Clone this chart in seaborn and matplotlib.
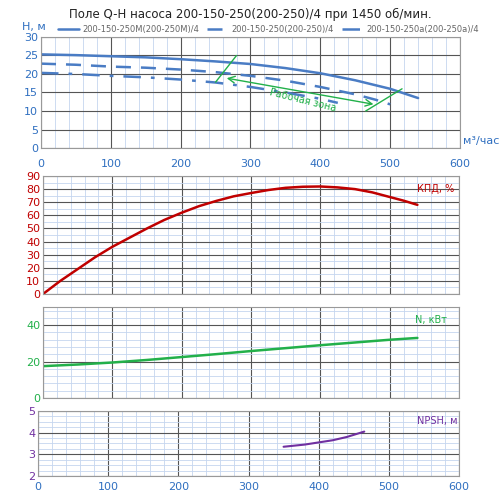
import matplotlib.pyplot as plt
import seaborn as sns
from matplotlib.ticker import MultipleLocator

sns.set_theme(style="white")
plt.rcParams['font.family'] = ['DejaVu Sans']

q_m = [0, 50, 100, 150, 200, 250, 300, 350, 400, 450, 500, 540]
h_m = [25.3, 25.1, 24.8, 24.5, 24.0, 23.4, 22.7, 21.6, 20.2, 18.3, 16.0, 13.5]
q_s = [0, 50, 100, 150, 200, 250, 300, 350, 400, 450, 480, 500]
h_s = [22.8, 22.5, 22.0, 21.7, 21.2, 20.5, 19.5, 18.2, 16.5, 14.5, 13.0, 11.8]
q_a = [0, 50, 100, 150, 200, 250, 300, 350, 400, 425]
h_a = [20.3, 20.0, 19.5, 19.1, 18.5, 17.7, 16.5, 15.0, 13.3, 12.2]
q_eff = [0, 25, 50, 75, 100, 125, 150, 175, 200, 225, 250, 275, 300, 325, 350, 375,
         400, 425, 450, 475, 500, 520, 540]
eff = [0, 10, 19, 28, 36, 43, 50, 56.5, 62, 67, 71, 74.5, 77, 79.3, 81, 81.8,
       82, 81.3, 80, 77.5, 74, 71.2, 68]
q_n = [0, 50, 100, 150, 200, 250, 300, 350, 400, 450, 500, 540]
power = [17.5, 18.4, 19.5, 20.9, 22.5, 24.1, 25.8, 27.4, 29.0, 30.5, 32.0, 33.0]
q_npsh = [350, 380, 400, 420, 440, 465]
npsh = [3.35, 3.45, 3.55, 3.65, 3.8, 4.05]

blue = "#4a7cc4"
tickblue = "#2f6fc0"

fig = plt.figure(figsize=(5, 4.97), dpi=100)
W, H = 500, 497
def ax_at(x0, y0, x1, y1):
    return fig.add_axes([x0 / W, 1 - y1 / H, (x1 - x0) / W, (y1 - y0) / H])

ax1 = ax_at(41, 37, 460, 148)
ax2 = ax_at(43, 176, 459, 294)
ax3 = ax_at(43, 307, 459, 398)
ax4 = ax_at(38, 411, 459, 476)

def style(ax, ystep, yminor, color):
    ax.set_xlim(0, 600)
    ax.xaxis.set_major_locator(MultipleLocator(100))
    ax.xaxis.set_minor_locator(MultipleLocator(20))
    ax.yaxis.set_major_locator(MultipleLocator(ystep))
    ax.yaxis.set_minor_locator(MultipleLocator(yminor))
    ax.grid(which="major", color="#555555", lw=0.8)
    ax.grid(which="minor", color="#c5d6ef", lw=0.6)
    ax.set_axisbelow(True)
    for s in ax.spines.values():
        s.set_color("#999999")
        s.set_linewidth(0.8)
    ax.tick_params(axis="y", labelsize=8, colors=color, length=0, pad=2)
    ax.tick_params(axis="x", labelsize=8, colors=tickblue, length=0, pad=4)

# H-Q
sns.lineplot(x=q_m, y=h_m, ax=ax1, color=blue, lw=1.8, label="200-150-250М(200-250М)/4")
sns.lineplot(x=q_s, y=h_s, ax=ax1, color=blue, lw=1.8, label="200-150-250(200-250)/4")
ax1.lines[-1].set_dashes([6, 4])
sns.lineplot(x=q_a, y=h_a, ax=ax1, color=blue, lw=1.8, label="200-150-250а(200-250а)/4")
ax1.lines[-1].set_dashes([7, 4, 1.5, 4])
ax1.set_ylim(0, 30)
style(ax1, 5, 5, tickblue)
ax1.tick_params(axis="x", pad=8)
ax1.legend(loc="lower left", bbox_to_anchor=(0.03, 0.99), ncol=3, frameon=False,
           fontsize=6, handlelength=2.6, columnspacing=1.0, handletextpad=0.3,
           borderpad=0, labelcolor="#666666")
ax1.set_title("Поле Q-H насоса 200-150-250(200-250)/4 при 1450 об/мин.", fontsize=8.5,
              pad=14, color="#222222")
ax1.text(-27, 31.3, "H, м", color=tickblue, fontsize=8, ha="left", va="bottom")
ax1.text(604, 0.5, "м³/час", color=tickblue, fontsize=8, ha="left", va="bottom", clip_on=False)
green = "#22b04a"
ax1.plot([250, 280], [17.8, 25], color=green, lw=1)
ax1.plot([465, 517], [10, 16], color=green, lw=1)
ax1.annotate("", xy=(262, 19), xytext=(480, 11.7),
             arrowprops=dict(arrowstyle="<->", color=green, lw=1))
ax1.text(375, 13.0, "Рабочая зона", color=green, fontsize=7, rotation=-14, ha="center", va="center")

# efficiency
sns.lineplot(x=q_eff, y=eff, ax=ax2, color="#c00000", lw=1.8)
ax2.set_ylim(0, 90)
style(ax2, 10, 5, "#c00000")
ax2.tick_params(axis="x", labelbottom=False)
ax2.text(540, 80, "КПД, %", color="#c00000", fontsize=7, ha="left", va="center")

# power
sns.lineplot(x=q_n, y=power, ax=ax3, color=green, lw=1.8)
ax3.set_ylim(0, 50)
style(ax3, 20, 4, green)
ax3.tick_params(axis="x", labelbottom=False)
ax3.text(537, 43, "N, кВт", color=green, fontsize=7, ha="left", va="center")

# NPSH
sns.lineplot(x=q_npsh, y=npsh, ax=ax4, color="#7030a0", lw=1.5)
ax4.set_ylim(2, 5)
style(ax4, 1, 0.25, "#7030a0")
ax4.text(540, 4.55, "NPSH, м", color="#7030a0", fontsize=7, ha="left", va="center")

fig.savefig("out.png", dpi=100)
